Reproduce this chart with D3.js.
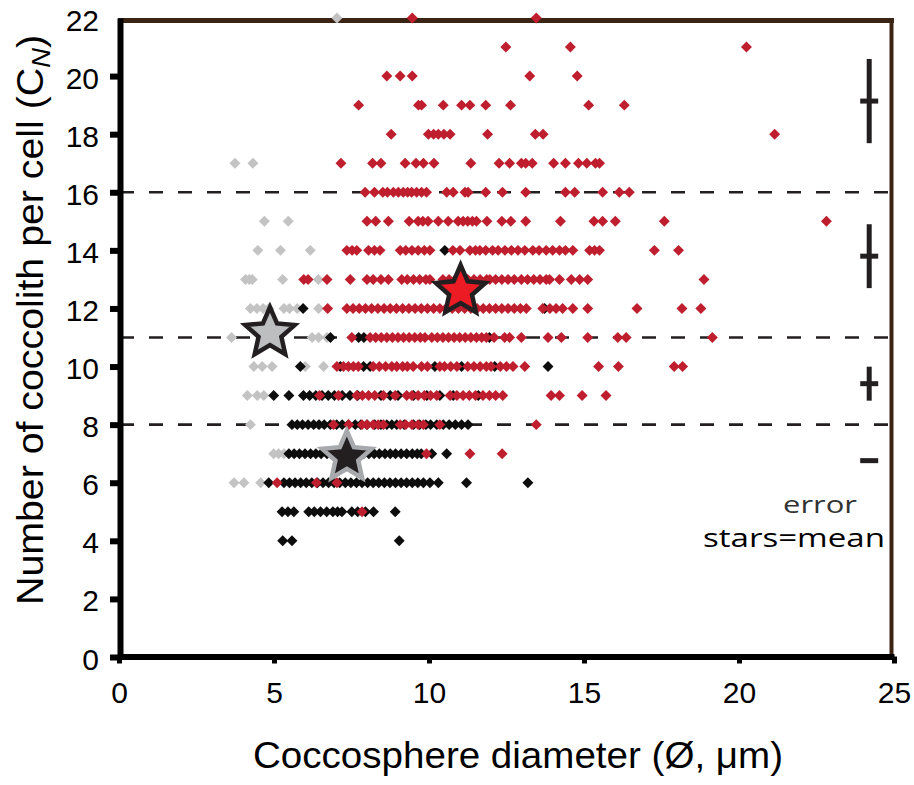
<!DOCTYPE html>
<html lang="en">
<head>
<meta charset="UTF-8">
<title>Coccolith number vs coccosphere diameter</title>
<script src="https://d3js.org/d3.v7.min.js"></script>
<style>
  body { margin: 0; background: #fff; }
  svg { display: block; font-family: 'Liberation Sans', Arial, sans-serif; }
</style>
</head>
<body>
<div id="chart"></div>
<script>
// ---- data ----
const xTicks = [0, 5, 10, 15, 20, 25];
const yTicks = [0, 2, 4, 6, 8, 10, 12, 14, 16, 18, 20, 22];
const cutoffs = [8, 11, 16];

// [coccoliths per cell, [diameters]]
const grayRows = [
  [22, [7.03]],
  [17, [3.74, 4.32]],
  [15, [4.69, 5.46]],
  [14, [4.48, 5.21, 6.17]],
  [13, [4.08, 4.2, 4.3, 5.28, 6.43]],
  [12, [4.24, 4.45, 4.65, 4.83, 5.32, 5.5, 5.75, 6.44]],
  [11, [3.63, 4.6, 6.23, 6.44, 6.71]],
  [10, [4.35, 4.62, 4.94, 6.01, 6.6]],
  [9, [4.14, 4.46, 4.67]],
  [8, [4.24, 6.47]],
  [7, [4.99, 5.15, 5.32]],
  [6, [3.71, 4.03, 4.57]]
];

const blackRows = [
  [14, [10.51]],
  [12, [5.94, 13.73]],
  [11, [6.82, 7.73, 7.9, 11.95]],
  [10, [5.85, 7.14, 7.89, 8.1, 10.19, 11.05, 12.12, 13.84]],
  [9, [4.99, 5.48, 5.95, 6.15, 6.35, 6.55, 6.75, 6.95, 7.2, 7.45, 7.7, 8.45, 8.75, 9.0, 9.5, 9.93, 10.35, 10.78, 11.59]],
  [8, [5.58, 5.75, 5.92, 6.1, 6.28, 6.45, 6.62, 6.82, 7.02, 7.2, 7.4, 7.62, 7.8, 8.0, 8.25, 8.45, 8.64, 8.8, 8.96, 9.2, 9.5, 9.7, 9.9, 10.05, 10.25, 10.46, 10.65, 10.85, 11.05, 11.26]],
  [7, [5.48, 5.65, 5.82, 6.0, 6.18, 6.35, 6.52, 6.71, 6.9, 7.1, 7.3, 7.5, 7.7, 7.89, 8.06, 8.23, 8.4, 8.58, 8.75, 8.92, 9.1, 9.28, 9.46, 9.62, 9.75, 10.09, 10.57]],
  [6, [4.83, 5.32, 5.5, 5.68, 5.86, 6.04, 6.22, 6.4, 6.58, 6.76, 6.94, 7.12, 7.3, 7.48, 7.66, 7.84, 8.02, 8.2, 8.38, 8.56, 8.74, 8.92, 9.1, 9.28, 9.46, 9.64, 9.82, 10.03, 10.3, 11.21, 13.19]],
  [5, [5.26, 5.45, 5.64, 6.12, 6.3, 6.5, 6.7, 6.9, 7.05, 7.19, 7.51, 7.7, 7.95, 8.21, 8.91]],
  [4, [5.28, 5.58, 9.04]]
];

const redRows = [
  [22, [9.46, 13.46]],
  [21, [12.48, 14.56, 20.24]],
  [20, [8.64, 9.07, 9.46, 13.25, 14.78]],
  [19, [7.73, 9.66, 9.76, 10.46, 11.05, 11.32, 11.83, 12.63, 15.15, 16.3]],
  [18, [8.78, 9.98, 10.15, 10.3, 10.48, 10.68, 11.89, 13.43, 13.68, 21.15]],
  [17, [7.16, 8.18, 8.45, 9.23, 9.58, 9.82, 10.16, 11.35, 12.26, 12.6, 12.98, 13.12, 13.33, 14.02, 14.4, 14.82, 15.09, 15.37, 15.5]],
  [16, [7.94, 8.24, 8.51, 8.66, 8.85, 9.01, 9.17, 9.31, 9.44, 9.6, 9.76, 9.92, 10.57, 10.78, 11.16, 11.26, 11.83, 12.37, 13.12, 14.4, 14.7, 15.6, 16.14, 16.46]],
  [15, [8.0, 8.28, 8.69, 9.36, 9.65, 9.8, 9.97, 10.3, 10.62, 10.94, 11.1, 11.25, 11.4, 11.53, 11.87, 12.35, 12.64, 13.12, 14.24, 15.32, 15.6, 16.01, 17.59, 22.82]],
  [14, [7.35, 7.52, 7.67, 8.05, 8.24, 8.42, 9.07, 9.25, 9.45, 9.65, 9.85, 10.03, 10.77, 11.0, 11.32, 11.5, 11.64, 11.83, 12.05, 12.23, 12.45, 12.66, 12.87, 13.09, 13.35, 13.55, 13.78, 13.99, 14.21, 14.4, 14.64, 15.18, 15.34, 15.5, 17.27, 18.05]],
  [13, [5.96, 6.1, 6.71, 7.46, 8.0, 8.2, 8.45, 8.69, 9.12, 9.3, 9.5, 9.7, 9.9, 10.03, 10.45, 10.65, 10.85, 11.05, 11.25, 11.45, 11.65, 11.86, 11.96, 12.15, 12.35, 12.55, 12.75, 12.98, 13.18, 13.38, 13.58, 13.78, 13.89, 14.21, 14.59, 14.86, 15.12, 18.87]],
  [12, [6.73, 7.35, 7.55, 7.75, 7.95, 8.15, 8.35, 8.55, 8.75, 8.95, 9.15, 9.35, 9.55, 9.75, 9.95, 10.15, 10.35, 10.55, 10.75, 10.95, 11.15, 11.35, 11.55, 11.75, 11.95, 12.15, 12.35, 12.55, 12.75, 12.95, 13.14, 13.67, 13.9, 14.1, 14.31, 14.64, 15.12, 16.71, 18.16, 18.77]],
  [11, [7.51, 8.1, 8.28, 8.46, 8.64, 8.82, 9.0, 9.18, 9.36, 9.54, 9.72, 9.87, 10.09, 10.27, 10.45, 10.63, 10.81, 10.99, 11.17, 11.35, 11.53, 11.7, 11.85, 12.1, 12.44, 12.6, 12.98, 13.84, 14.27, 15.12, 16.09, 16.36, 19.14]],
  [10, [7.03, 7.24, 7.4, 7.56, 7.72, 8.2, 8.4, 8.6, 8.8, 8.96, 9.15, 9.3, 9.49, 9.76, 9.95, 10.35, 10.5, 10.7, 10.9, 11.25, 11.45, 11.65, 11.85, 12.0, 12.3, 12.5, 12.71, 13.09, 15.47, 16.11, 17.91, 18.18]],
  [9, [6.47, 7.08, 7.67, 7.85, 8.05, 8.25, 8.53, 8.91, 9.28, 9.45, 9.65, 9.85, 10.05, 10.25, 10.68, 10.9, 11.1, 11.3, 11.5, 11.74, 11.95, 12.15, 12.38, 13.94, 14.21, 14.94, 15.71]],
  [8, [6.92, 7.41, 7.84, 8.0, 8.2, 8.36, 8.53, 9.07, 9.25, 9.45, 9.65, 9.82, 10.35, 13.46]],
  [7, [9.92, 11.32, 12.36]],
  [6, [5.1, 6.37, 7.03]],
  [5, [7.84]]
];

// group means (stars)
const meanGroups = ['gray', 'black', 'red'];
const meanX = [4.87, 7.35, 11.02];
const meanY = [11.15, 6.89, 12.6];

// counting error bars on the right
const errCenter = [19.14, 13.8, 9.41, 6.76];
const errHalf = [1.45, 1.1, 0.585, 0];
const errX = 24.2;

// ---- drawing ----
const W = 914, H = 785;
const svg = d3.select('#chart').append('svg')
  .attr('width', W).attr('height', H);
svg.append('rect').attr('width', W).attr('height', H).attr('fill', '#fff');

const x = d3.scaleLinear().domain([0, 25]).range([119, 894]);
const y = d3.scaleLinear().domain([0, 22]).range([657, 18]);

const colors = { gray: '#c3c3c3', black: '#0d0d0d', red: '#be1e2d' };

// frame: brown top / right
svg.append('line').attr('x1', 118).attr('x2', 894).attr('y1', 20.5).attr('y2', 20.5)
  .attr('stroke', '#3c2415').attr('stroke-width', 5);
svg.append('line').attr('x1', 891.5).attr('x2', 891.5).attr('y1', 18).attr('y2', 657)
  .attr('stroke', '#3c2415').attr('stroke-width', 4);

// dashed cut-off lines
svg.append('g').selectAll('line').data(cutoffs).join('line')
  .attr('x1', 120).attr('x2', 891)
  .attr('y1', d => y(d)).attr('y2', d => y(d))
  .attr('stroke', '#231f20').attr('stroke-width', 2.7)
  .attr('stroke-dasharray', '14,15');

// points: gray, then black, then red on top
const diamond = d3.symbol().type(d3.symbolSquare).size(60)();
function flatten(rows, group) {
  const out = [];
  rows.forEach(([cn, xs]) => xs.forEach(d => out.push({ x: d, y: cn, g: group })));
  return out;
}
[['gray', grayRows], ['black', blackRows], ['red', redRows]].forEach(([g, rows]) => {
  svg.append('g').selectAll('path').data(flatten(rows, g)).join('path')
    .attr('d', diamond)
    .attr('transform', d => `translate(${x(d.x)},${y(d.y)}) rotate(45)`)
    .attr('fill', colors[g]);
});

// axes
const yAxis = svg.append('g').attr('transform', 'translate(120,0)')
  .call(d3.axisLeft(y).tickValues(yTicks).tickSize(10).tickSizeOuter(0).tickPadding(11));
yAxis.select('.domain').attr('stroke', '#000').attr('stroke-width', 6);
yAxis.selectAll('.tick line').attr('stroke', '#000').attr('stroke-width', 6);
yAxis.selectAll('.tick text').attr('font-size', 30).attr('fill', '#000')
  .attr('font-family', "'Liberation Sans', Arial, sans-serif").attr('dy', '0.4em');
yAxis.selectAll('.tick').filter(d => d === 22).select('line').remove();

const xAxis = svg.append('g').attr('transform', 'translate(0,656.5)')
  .call(d3.axisBottom(x).tickValues(xTicks).tickSize(7).tickSizeOuter(0).tickPadding(18));
xAxis.select('.domain').attr('stroke', '#000').attr('stroke-width', 6);
xAxis.selectAll('.tick line').attr('stroke', '#000').attr('stroke-width', 5);
xAxis.selectAll('.tick text').attr('font-size', 30).attr('fill', '#000')
  .attr('font-family', "'Liberation Sans', Arial, sans-serif");

// axis titles
svg.append('text')
  .attr('x', 518).attr('y', 768)
  .attr('text-anchor', 'middle').attr('font-size', 37)
  .attr('textLength', 530).attr('lengthAdjust', 'spacingAndGlyphs')
  .text('Coccosphere diameter (Ø, μm)');

const yTitle = svg.append('text')
  .attr('transform', 'translate(43,320) rotate(-90)')
  .attr('text-anchor', 'middle').attr('font-size', 36)
  .attr('textLength', 570).attr('lengthAdjust', 'spacingAndGlyphs');
yTitle.append('tspan').text('Number of coccolith per cell (C');
yTitle.append('tspan').attr('font-style', 'italic').attr('font-size', 25).attr('dy', 7).text('N');
yTitle.append('tspan').attr('dy', -7).text(')');

// mean stars
function starPath(R, r) {
  const pts = [];
  for (let i = 0; i < 10; i++) {
    const a = -Math.PI / 2 + i * Math.PI / 5;
    const rad = i % 2 === 0 ? R : r;
    pts.push([rad * Math.cos(a), rad * Math.sin(a)]);
  }
  return 'M' + pts.map(p => p[0].toFixed(2) + ',' + p[1].toFixed(2)).join('L') + 'Z';
}
const starStyle = {
  gray: { fill: '#bcbec0', stroke: '#231f20' },
  black: { fill: '#231f20', stroke: '#a7a9ac' },
  red: { fill: '#ed1c24', stroke: '#231f20' }
};
svg.append('g').selectAll('path').data(meanGroups).join('path')
  .attr('d', starPath(26, 12))
  .attr('transform', (d, i) => `translate(${x(meanX[i])},${y(meanY[i])})`)
  .attr('fill', d => starStyle[d].fill)
  .attr('stroke', d => starStyle[d].stroke)
  .attr('stroke-width', 4.5)
  .attr('stroke-linejoin', 'miter');

// error bars
const eg = svg.append('g').attr('stroke', '#231f20').attr('stroke-width', 5);
eg.selectAll('line.v').data(errCenter).join('line').attr('class', 'v')
  .attr('x1', x(errX)).attr('x2', x(errX))
  .attr('y1', (d, i) => y(d + errHalf[i])).attr('y2', (d, i) => y(d - errHalf[i]));
eg.selectAll('line.h').data(errCenter).join('line').attr('class', 'h')
  .attr('x1', x(errX) - 9).attr('x2', x(errX) + 9)
  .attr('y1', d => y(d)).attr('y2', d => y(d));

// note
svg.append('text').attr('x', 820).attr('y', 513)
  .attr('text-anchor', 'middle').attr('font-family', "'Open Sans', sans-serif")
  .attr('font-size', 24).attr('fill', '#333')
  .attr('textLength', 74).attr('lengthAdjust', 'spacingAndGlyphs')
  .text('error');
svg.append('text').attr('x', 885).attr('y', 547)
  .attr('text-anchor', 'end').attr('font-family', "'Open Sans', sans-serif")
  .attr('font-size', 25).attr('fill', '#000')
  .attr('textLength', 182).attr('lengthAdjust', 'spacingAndGlyphs')
  .text('stars=mean');
</script>
</body>
</html>
